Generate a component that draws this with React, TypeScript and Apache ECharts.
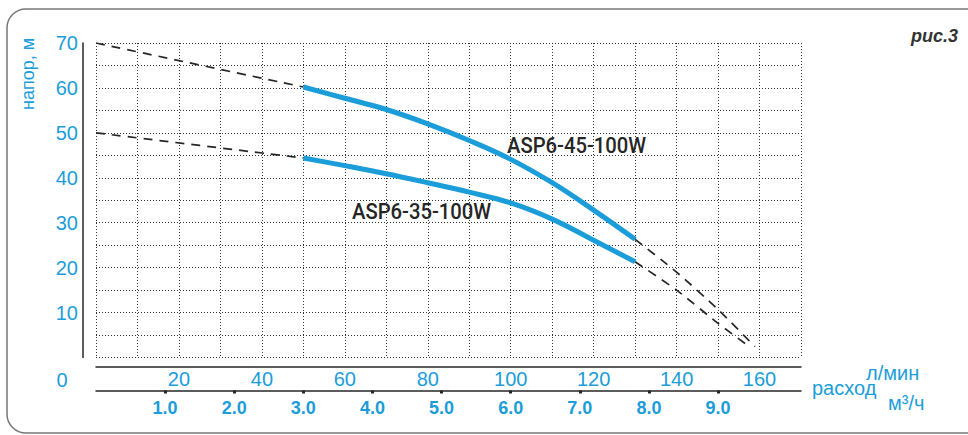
import React, { useEffect, useRef } from "react";
import * as echarts from "echarts";

// ---- data (flow in l/min, head in m) ----
const upperSolidX = [50, 60, 70, 80, 90, 100, 110, 120, 130];
const upperSolidY = [60.2, 57.7, 55.2, 52.0, 48.3, 44.1, 38.9, 32.8, 26.3];
const lowerSolidX = [50, 60, 70, 80, 90, 100, 110, 120, 130];
const lowerSolidY = [44.4, 42.7, 40.9, 38.9, 36.8, 34.4, 30.8, 26.1, 21.3];

const upperHeadX = [0, 50];
const upperHeadY = [70, 60.2];
const lowerHeadX = [0, 50];
const lowerHeadY = [50, 44.4];

const upperTailX = [130, 140, 150, 158.9];
const upperTailY = [26.3, 19.0, 10.7, 2.4];
const lowerTailX = [130, 140, 150, 157.7];
const lowerTailY = [21.3, 15.0, 7.6, 2.3];

const lpmLabels = [20, 40, 60, 80, 100, 120, 140, 160];
const headLabels = [10, 20, 30, 40, 50, 60, 70];
const m3hLabels = ["1.0", "2.0", "3.0", "4.0", "5.0", "6.0", "7.0", "8.0", "9.0"];

const upperName = "ASP6-45-100W";
const lowerName = "ASP6-35-100W";

const BLUE = "#1b9dd9";
const DARK = "#262626";
const FONT = "'Liberation Sans', Arial, sans-serif";
const NARROW = "Roboto, 'DejaVu Sans', sans-serif";

const zip = (xs: number[], ys: number[]) => xs.map((x, i) => [x, ys[i]]);

// category scaffold for the m3/h axis: 0.0 .. 10.2 step 0.2 (170 l/min = 10.2 m3/h)
const m3hCats: string[] = [];
for (let i = 0; i <= 51; i++) m3hCats.push((i * 0.2).toFixed(1));

export default function App() {
  const ref = useRef<HTMLDivElement>(null);
  useEffect(() => {
    if (!ref.current) return;
    const chart = echarts.init(ref.current, undefined, { renderer: "svg" });
    const dotted = { type: [1, 2] as any, color: "#333", width: 1 };
    const dashStyle = { type: [9, 7] as any, color: DARK, width: 1.7 };
    const solid = (name: string, xs: number[], ys: number[]) => ({
      type: "line",
      name,
      xAxisIndex: 0,
      data: zip(xs, ys),
      symbol: "none",
      smooth: 0.4,
      lineStyle: { color: BLUE, width: 5 },
      z: 4,
    });
    const dashed = (xs: number[], ys: number[]) => ({
      type: "line",
      xAxisIndex: 0,
      data: zip(xs, ys),
      symbol: "none",
      smooth: 0.2,
      lineStyle: dashStyle,
      z: 3,
    });
    chart.setOption({
      animation: false,
      backgroundColor: "#fff",
      grid: { left: 96, right: 167, top: 43, bottom: 77.5 },
      xAxis: [
        {
          type: "value",
          min: 0,
          max: 170,
          interval: 10,
          axisLine: { show: false },
          axisTick: { show: false },
          axisLabel: { show: false },
          splitLine: { show: true, lineStyle: dotted },
        },
        {
          type: "value",
          min: 0,
          max: 170,
          interval: 20,
          position: "bottom",
          offset: 9,
          axisLine: { show: true, onZero: false, lineStyle: { color: DARK, width: 1.5 } },
          axisTick: { show: false },
          splitLine: { show: false },
          axisLabel: {
            show: true,
            margin: 2,
            color: BLUE,
            fontSize: 20,
            fontFamily: FONT,
            formatter: (v: number) => (lpmLabels.includes(v) ? String(v) : ""),
          },
        },
        {
          type: "category",
          data: m3hCats,
          boundaryGap: false,
          position: "bottom",
          offset: 33,
          axisLine: { show: true, onZero: false, lineStyle: { color: DARK, width: 1.5 } },
          axisTick: {
            show: true,
            length: 3,
            interval: (_i: number, v: string) => m3hLabels.includes(v),
            lineStyle: { color: DARK, width: 3 },
          },
          splitLine: { show: false },
          axisLabel: {
            show: true,
            margin: 8,
            color: BLUE,
            fontSize: 18,
            fontWeight: "bold",
            fontFamily: FONT,
            interval: (_i: number, v: string) => m3hLabels.includes(v),
          },
        },
      ],
      yAxis: [
        {
          type: "value",
          min: 0,
          max: 70,
          interval: 5,
          offset: 13,
          axisLine: { show: true, onZero: false, lineStyle: { color: DARK, width: 1.5 } },
          axisTick: { show: false },
          splitLine: { show: true, lineStyle: dotted },
          axisLabel: {
            show: true,
            margin: 5,
            color: BLUE,
            fontSize: 20,
            fontFamily: FONT,
            formatter: (v: number) => (headLabels.includes(v) ? String(v) : ""),
          },
        },
      ],
      series: [
        dashed(upperHeadX, upperHeadY),
        dashed(lowerHeadX, lowerHeadY),
        dashed(upperTailX, upperTailY),
        dashed(lowerTailX, lowerTailY),
        solid(upperName, upperSolidX, upperSolidY),
        solid(lowerName, lowerSolidX, lowerSolidY),
      ],
      graphic: [
        {
          type: "rect",
          shape: { x: 7, y: 9, width: 985, height: 424, r: 19 },
          style: { fill: "none", stroke: "#777", lineWidth: 1.5 },
          silent: true,
          z: -1,
        },
        {
          type: "text",
          x: 28,
          y: 74,
          rotation: Math.PI / 2,
          style: { text: "напор, м", fill: BLUE, fontSize: 18, fontFamily: FONT, align: "center", verticalAlign: "middle" },
        },
        {
          type: "text",
          x: 62,
          y: 380,
          style: { text: "0", fill: BLUE, fontSize: 20, fontFamily: FONT, align: "center", verticalAlign: "middle" },
        },
        {
          type: "text",
          x: 812,
          y: 388,
          style: { text: "расход", fill: BLUE, fontSize: 20, fontFamily: FONT, align: "left", verticalAlign: "middle" },
        },
        {
          type: "text",
          x: 866,
          y: 373,
          style: { text: "л/мин", fill: BLUE, fontSize: 20, fontFamily: FONT, align: "left", verticalAlign: "middle" },
        },
        {
          type: "text",
          x: 888,
          y: 403,
          style: { text: "м³/ч", fill: BLUE, fontSize: 20, fontFamily: FONT, align: "left", verticalAlign: "middle" },
        },
        {
          type: "text",
          x: 958,
          y: 36,
          style: { text: "рис.3", fill: "#333", fontSize: 18, fontWeight: "bold", fontStyle: "italic", fontFamily: FONT, align: "right", verticalAlign: "middle" },
        },
        {
          type: "text",
          x: 507,
          y: 145,
          scaleX: 0.9,
          style: { text: upperName, fill: DARK, fontSize: 22.5, fontWeight: 500, fontFamily: NARROW, align: "left", verticalAlign: "middle" },
        },
        {
          type: "text",
          x: 352,
          y: 211,
          scaleX: 0.9,
          style: { text: lowerName, fill: DARK, fontSize: 22.5, fontWeight: 500, fontFamily: NARROW, align: "left", verticalAlign: "middle" },
        },
      ],
    });
    return () => chart.dispose();
  }, []);
  return (
    <div
      ref={ref}
      style={{ position: "fixed", left: 0, top: 0, width: 968, height: 435 }}
    />
  );
}
